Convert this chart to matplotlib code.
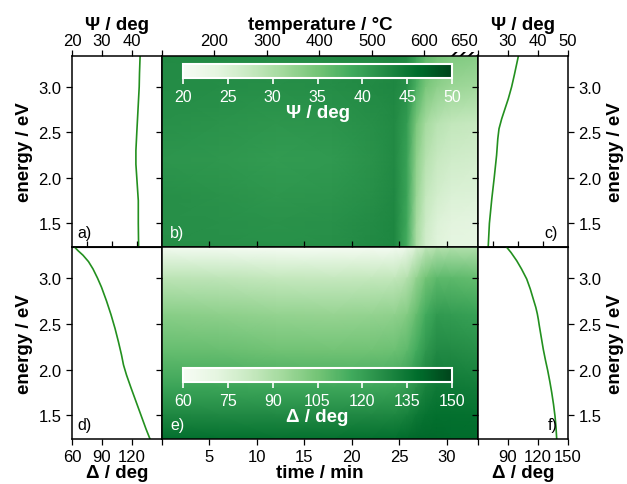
"""Psi / Delta spectra and maps during annealing, six panels a)-f)."""

import matplotlib.pyplot as plt
from matplotlib.patches import Rectangle

plt.rcParams['font.family'] = ['Liberation Sans', 'DejaVu Sans']
plt.rcParams['hatch.linewidth'] = 1.4

# spectrum at the start of the run (panels a, d)
energy_a = [3.34, 3.15, 3.0, 2.75, 2.5, 2.3, 2.15, 2.0, 1.75, 1.5, 1.24]
psi_a = [42.7, 42.5, 42.4, 42.0, 41.6, 41.3, 41.3, 41.6, 42.1, 42.1, 42.2]
energy_d = [3.34, 3.30, 3.25, 3.18, 3.10, 3.00, 2.90, 2.75, 2.60, 2.45, 2.30,
            2.16, 2.05, 1.94, 1.80, 1.65, 1.47, 1.35, 1.24]
delta_d = [62.5, 66.0, 71.0, 76.5, 81.0, 85.5, 89.5, 94.5, 99.0, 103.0, 106.5,
           109.5, 111.5, 114.5, 119.0, 124.0, 130.0, 134.0, 138.0]

# spectrum at the end of the run (panels c, f)
energy_c = [3.33, 3.13, 3.0, 2.87, 2.76, 2.65, 2.54, 2.43, 2.25, 2.0, 1.77,
            1.5, 1.24]
psi_c = [33.4, 32.1, 31.2, 30.1, 29.0, 27.9, 27.0, 26.6, 26.2, 25.4, 24.6,
         23.8, 23.4]
energy_f = [3.34, 3.28, 3.19, 3.10, 2.99, 2.88, 2.77, 2.68, 2.61, 2.55, 2.48,
            2.35, 2.22, 2.10, 1.99, 1.87, 1.75, 1.62, 1.49, 1.37, 1.24]
delta_f = [88.5, 93.0, 98.7, 103.5, 108.7, 112.3, 115.3, 117.8, 119.3, 120.3,
           121.3, 123.3, 125.3, 127.5, 129.7, 131.8, 133.7, 135.5, 137.0,
           138.0, 138.7]

# maps (panels b, e): rows follow map_energy, columns follow map_time
map_energy = [3.34, 3.0, 2.6, 2.2, 1.8, 1.5, 1.24]
map_time = [0, 6, 12, 18, 22, 24.5, 25.8, 26.8, 27.8, 29.0, 30.5, 33.3]
psi_map = [
    [42.6, 42.5, 42.3, 42.4, 42.6, 42.9, 42.4, 39.5, 36.5, 35.0, 34.0, 33.4],
    [42.3, 42.2, 42.0, 42.2, 42.5, 42.9, 42.0, 38.0, 34.5, 32.8, 31.8, 31.2],
    [41.8, 41.5, 41.2, 41.4, 42.0, 42.6, 40.5, 34.5, 30.8, 29.0, 28.0, 27.6],
    [41.3, 41.0, 40.6, 40.8, 41.6, 42.5, 39.8, 33.0, 29.2, 27.4, 26.5, 26.0],
    [42.0, 41.6, 41.2, 41.4, 42.0, 42.8, 39.5, 32.0, 27.8, 26.0, 25.0, 24.7],
    [42.0, 41.8, 41.6, 41.8, 42.4, 43.0, 39.0, 31.0, 26.8, 24.8, 24.0, 23.7],
    [42.1, 42.0, 41.8, 42.0, 42.6, 43.0, 38.5, 30.5, 26.2, 24.4, 23.7, 23.4],
]
delta_map = [
    [63.0, 62.0, 61.0, 61.0, 61.5, 62.0, 66.0, 76.0, 84.0, 88.0, 89.0, 88.5],
    [86.0, 85.0, 83.5, 83.0, 83.5, 84.0, 88.0, 97.0, 105.0, 110.0, 110.0, 108.5],
    [100.0, 98.5, 97.0, 96.5, 97.0, 98.0, 101.0, 108.0, 116.0, 122.0, 121.5, 119.5],
    [108.5, 107.5, 106.0, 105.5, 106.0, 107.0, 110.0, 116.0, 123.0, 128.0, 127.5, 126.0],
    [119.0, 118.5, 118.0, 117.5, 118.0, 119.0, 121.0, 126.0, 131.0, 134.0, 134.0, 133.0],
    [129.0, 128.5, 128.0, 128.0, 128.5, 129.0, 131.0, 134.0, 136.5, 137.5, 137.5, 137.0],
    [138.0, 137.5, 137.0, 137.0, 137.5, 138.0, 139.0, 140.0, 140.0, 139.5, 139.0, 138.7],
]

# temperature ramp: 100 C at t=0 up to the 650 C hold
temp_start, temp_hold, t_hold = 100.0, 650.0, 30.4
t_end = 33.3

energy_ticks = [1.5, 2.0, 2.5, 3.0]
psi_ticks = [20, 30, 40, 50]
delta_ticks = [60, 90, 120, 150]
delta_minor = [75, 100, 125]
time_ticks = [5, 10, 15, 20, 25, 30]
temp_ticks = [200, 300, 400, 500, 600]
psi_cbar_ticks = [20, 25, 30, 35, 40, 45, 50]
delta_cbar_ticks = [60, 75, 90, 105, 120, 135, 150]

GREEN = '#23901f'
W, H = 627, 485
LAB = dict(fontsize=13.5, fontweight='bold')
TICK = dict(direction='out', length=4.5, width=0.9, labelsize=12, pad=3)


def box(x0, y0, x1, y1):
  return [x0 / W, 1 - y1 / H, (x1 - x0) / W, (y1 - y0) / H]


def t_to_temp(t):
  return temp_start + (temp_hold - temp_start) * t / t_hold


def temp_to_t(temp):
  return (temp - temp_start) * t_hold / (temp_hold - temp_start)


def frame(ax):
  for s in ax.spines.values():
    s.set_linewidth(1.1)
  ax.set_ylim(1.24, 3.34)
  ax.set_yticks(energy_ticks)


def side_panel(ax, x, y, xlim, ticks, labels, top, right, tag):
  frame(ax)
  ax.plot(x, y, color=GREEN, lw=1.2)
  ax.set_xlim(*xlim)
  ax.set_xticks(ticks)
  ax.set_xticklabels(labels)
  ax.tick_params(**TICK)
  if top:
    ax.xaxis.tick_top()
    ax.xaxis.set_label_position('top')
    ax.tick_params(axis='x', pad=1)
  else:
    ax.tick_params(top=False)
    sec = ax.secondary_xaxis('top')
    sec.set_xticks(delta_minor)
    sec.set_xticklabels([])
    sec.tick_params(direction='out', length=4.5, width=0.9)
  if right:
    ax.yaxis.tick_right()
    ax.yaxis.set_label_position('right')
    ax.tick_params(left=True, labelleft=False)
    ax.text(0.89, 0.05, tag, transform=ax.transAxes, fontsize=11.5, ha='right')
  else:
    ax.text(0.06, 0.05, tag, transform=ax.transAxes, fontsize=11.5)
  ax.set_ylabel('energy / eV', **LAB)


def map_panel(ax, z, vmin, vmax, tag):
  frame(ax)
  mesh = ax.pcolormesh(map_time, map_energy, z, shading='gouraud',
                       cmap='Greens', vmin=vmin, vmax=vmax)
  ax.set_xlim(0, t_end)
  ax.tick_params(**TICK)
  ax.tick_params(left=True, right=True, labelleft=False, labelright=False)
  ax.text(0.025, 0.05, tag, transform=ax.transAxes, fontsize=11.5,
          color='white')
  return mesh


def colorbar(fig, mesh, rect, ticks, label):
  cax = fig.add_axes(box(*rect))
  cb = fig.colorbar(mesh, cax=cax, orientation='horizontal')
  cb.set_ticks(ticks)
  cb.outline.set_edgecolor('white')
  cb.outline.set_linewidth(1.5)
  cax.tick_params(direction='out', length=4.5, width=1.2, color='white',
                  labelcolor='white', labelsize=11.5)
  cb.set_label(label, color='white', labelpad=0, **LAB)


fig = plt.figure(figsize=(6.27, 4.85), dpi=100)

ax_a = fig.add_axes(box(72, 57, 162, 248))
ax_b = fig.add_axes(box(162, 57, 478, 248))
ax_c = fig.add_axes(box(478, 57, 568, 248))
ax_d = fig.add_axes(box(72, 248, 162, 440))
ax_e = fig.add_axes(box(162, 248, 478, 440))
ax_f = fig.add_axes(box(478, 248, 568, 440))

side_panel(ax_a, psi_a, energy_a, (20, 50), psi_ticks, ['20', '30', '40', ''],
           True, False, 'a)')
ax_a.set_xlabel('Ψ / deg', labelpad=3, **LAB)
side_panel(ax_c, psi_c, energy_c, (20, 50), psi_ticks, ['', '30', '40', '50'],
           True, True, 'c)')
ax_c.set_xlabel('Ψ / deg', labelpad=3, **LAB)
side_panel(ax_d, delta_d, energy_d, (60, 150), delta_ticks,
           ['60', '90', '120', ''], False, False, 'd)')
ax_d.set_xlabel('Δ / deg', labelpad=0, **LAB)
side_panel(ax_f, delta_f, energy_f, (60, 150), delta_ticks,
           ['', '90', '120', '150'], False, True, 'f)')
ax_f.set_xlabel('Δ / deg', labelpad=0, **LAB)

# Psi map with temperature axis on top
mesh_b = map_panel(ax_b, psi_map, 20, 50, 'b)')
ax_b.tick_params(bottom=False, labelbottom=False)
sec = ax_b.secondary_xaxis('top', functions=(t_to_temp, temp_to_t))
sec.set_xticks(temp_ticks)
sec.tick_params(**TICK)
sec.tick_params(pad=1)
sec.set_xlabel('temperature / °C', labelpad=3, **LAB)
# hold at 650 C: label centred over the hatched strip
fig.text(464 / W, 1 - 49.5 / H, '650', ha='center', va='bottom', fontsize=12,
         zorder=10)
ax_b.add_patch(Rectangle((t_hold, 1.0), t_end - t_hold, 4.5 / 191,
                         transform=ax_b.get_xaxis_transform(), clip_on=False,
                         fill=False, hatch='////', linewidth=0,
                         edgecolor='black'))
colorbar(fig, mesh_b, (183, 65, 452, 79), psi_cbar_ticks, 'Ψ / deg')

# Delta map with time axis
mesh_e = map_panel(ax_e, delta_map, 60, 150, 'e)')
ax_e.set_xticks(time_ticks)
ax_e.tick_params(top=True, labeltop=False)
ax_e.set_xlabel('time / min', labelpad=0, **LAB)
colorbar(fig, mesh_e, (183, 369, 452, 383), delta_cbar_ticks, 'Δ / deg')

fig.savefig('out.png', dpi=100)
